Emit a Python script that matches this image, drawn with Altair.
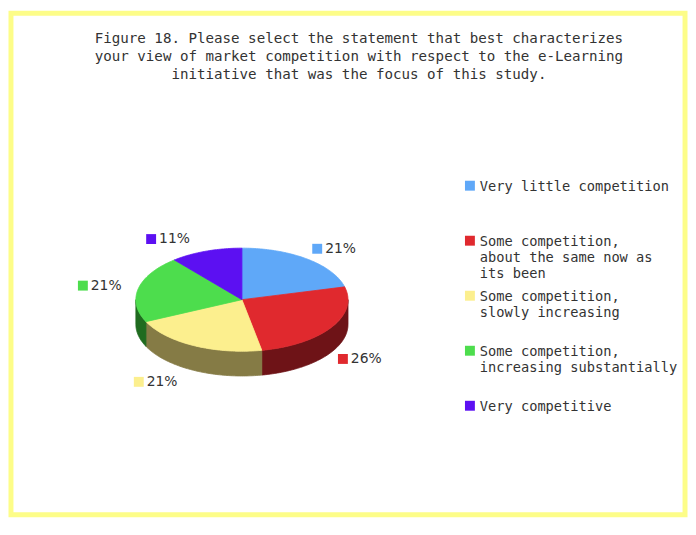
import math
import altair as alt
import pandas as pd

# ---- data ----
categories = [
    "Very little competition",
    "Some competition,\nabout the same now as\nits been",
    "Some competition,\nslowly increasing",
    "Some competition,\nincreasing substantially",
    "Very competitive",
]
values = [21, 26, 21, 21, 11]
pct_labels = ["21%", "26%", "21%", "21%", "11%"]
top_colors = ["#5fa8f8", "#e0292e", "#fcef8e", "#4ddd4d", "#5c10f2"]
side_colors = ["#3a6fb0", "#6e1317", "#857b45", "#1f6b1f", "#35108f"]
title_lines = (
    "Figure 18. Please select the statement that best characterizes\n"
    "your view of market competition with respect to the e-Learning\n"
    "initiative that was the focus of this study."
)

FONT = "DejaVu Sans Mono"
LABEL_FONT = "DejaVu Sans"
TEXT_COLOR = "#333333"
DEPTH = 0.48  # wall depth in units of the vertical radius

# ---- build the geometry tables from the values ----
total = float(sum(values))
top_rows, side_rows, lab_rows, leg_rows = [], [], [], []
start = 0.0
for k, (cat, v) in enumerate(zip(categories, values)):
    a0 = start / total * 360.0
    a1 = (start + v) / total * 360.0
    start += v
    n = max(2, int(a1 - a0) + 1)
    pts = [(0.0, 0.0)]
    for j in range(n + 1):
        a = math.radians(a0 + (a1 - a0) * j / n)
        pts.append((math.sin(a), math.cos(a)))
    for i, (x, y) in enumerate(pts):
        top_rows.append(dict(key=k, i=i, x=x, y=y, col=top_colors[k]))
    s0, s1 = max(a0, 90.0), min(a1, 270.0)
    if s1 > s0:
        m = max(2, int(s1 - s0) + 1)
        arc = [math.radians(s0 + (s1 - s0) * j / m) for j in range(m + 1)]
        poly = [(math.sin(a), math.cos(a)) for a in arc]
        poly += [(math.sin(a), math.cos(a) - DEPTH) for a in reversed(arc)]
        for i, (x, y) in enumerate(poly):
            side_rows.append(dict(key=k, i=i, x=x, y=y, col=side_colors[k]))
    mid = math.radians((a0 + a1) / 2.0)
    sx, cy = math.sin(mid), math.cos(mid)
    if sx > 0:
        lx = 1.047 * sx + 0.068
    else:
        lx = 1.01 * sx - 0.514
    ly = 1.25 * cy - (DEPTH if cy < 0 else 0.0)
    lab_rows.append(dict(key=k, x=lx, y=ly, label=pct_labels[k], col=top_colors[k]))
    leg_rows.append(dict(idx=k, label=cat, col=top_colors[k]))

top_df = pd.DataFrame(top_rows)
side_df = pd.DataFrame(side_rows)
lab_df = pd.DataFrame(lab_rows)
leg_df = pd.DataFrame(leg_rows)

X = alt.X("x:Q", scale=alt.Scale(domain=[-1, 1], range=[126, 340], nice=False, zero=False), axis=None)
Y = alt.Y("y:Q", scale=alt.Scale(domain=[-1, 1], range=[341, 237], nice=False, zero=False), axis=None)

walls = alt.Chart(side_df).mark_line(interpolate="linear-closed", filled=True, strokeWidth=0.8).encode(
    x=X, y=Y, color=alt.Color("col:N", scale=None), stroke=alt.Stroke("col:N", scale=None),
    detail="key:N", order="i:Q",
)
tops = alt.Chart(top_df).mark_line(interpolate="linear-closed", filled=True, strokeWidth=0.8).encode(
    x=X, y=Y, color=alt.Color("col:N", scale=None), stroke=alt.Stroke("col:N", scale=None),
    detail="key:N", order="i:Q",
)
lab_sq = alt.Chart(lab_df).mark_point(shape="square", filled=True, size=100, opacity=1).encode(
    x=X, y=Y, color=alt.Color("col:N", scale=None),
)
lab_tx = alt.Chart(lab_df).mark_text(
    align="left", baseline="middle", dx=8, font=LABEL_FONT, fontSize=14, color=TEXT_COLOR
).encode(x=X, y=Y, text="label:N")

LY = alt.Y("idx:Q", scale=alt.Scale(domain=[0, 4], range=[174, 396], nice=False, zero=False), axis=None)
leg_sq = alt.Chart(leg_df).mark_point(shape="square", filled=True, size=100, opacity=1).encode(
    x=alt.value(463), y=LY, color=alt.Color("col:N", scale=None),
)
leg_tx = alt.Chart(leg_df).mark_text(
    align="left", baseline="top", dy=-6, font=FONT, fontSize=13.8, lineBreak="\n",
    lineHeight=16.5, color=TEXT_COLOR,
).encode(x=alt.value(473), y=LY, text="label:N")

title = alt.Chart(pd.DataFrame({"t": [title_lines]})).mark_text(
    align="center", baseline="top", font=FONT, fontSize=14.3, lineBreak="\n",
    lineHeight=18, color=TEXT_COLOR,
).encode(x=alt.value(351), y=alt.value(19), text="t:N")

chart = (
    alt.layer(walls, tops, lab_sq, lab_tx, leg_sq, leg_tx, title)
    .resolve_scale(x="independent", y="independent")
    .properties(width=680, height=506, padding=3, autosize="none", background="white")
    .configure_view(stroke="#fdfd88", strokeWidth=5)
)

chart.save("out.html", embed_options={"renderer": "svg", "actions": False})
